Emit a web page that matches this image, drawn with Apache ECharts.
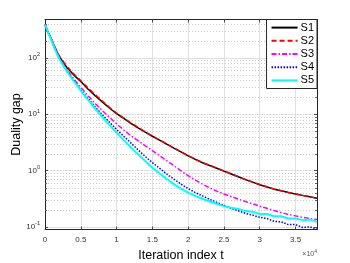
<!DOCTYPE html>
<html><head><meta charset="utf-8">
<script src="https://cdn.jsdelivr.net/npm/echarts@6/dist/echarts.min.js"></script>
<style>html,body{margin:0;padding:0;background:#fff}#c{width:350px;height:263px}</style>
</head><body><div id="c"></div>
<script>
const iterations = [0,500,1000,1500,2000,3000,4000,5000,6000,7000,8000,9000,10000,11000,12000,13000,14000,15000,16000,17000,18000,19000,20000,21000,22000,23000,24000,25000,26000,27000,28000,29000,30000,31000,32000,33000,34000,35000,36000,37000,38000];
const s1 = [389,275,200,141,105,69,50,38,28,21.4,16.6,12.9,10.2,8.4,6.9,5.75,4.8,4.07,3.47,2.95,2.51,2.14,1.82,1.58,1.38,1.23,1.10,0.977,0.871,0.776,0.692,0.624,0.562,0.513,0.468,0.437,0.407,0.385,0.363,0.343,0.324];
const s2 = [389,276,202,144,108,72,52,39.5,29.5,22.3,17.2,13.3,10.5,8.6,7.05,5.85,4.88,4.12,3.5,2.98,2.53,2.16,1.84,1.6,1.39,1.24,1.11,0.985,0.878,0.78,0.695,0.627,0.565,0.515,0.47,0.438,0.408,0.385,0.362,0.342,0.322];
const s3 = [389,275,195,138,100,63.1,42.7,30.2,21.4,15.5,11.6,8.81,6.76,5.25,4.17,3.39,2.75,2.26,1.84,1.50,1.22,0.989,0.813,0.676,0.575,0.495,0.431,0.385,0.347,0.313,0.282,0.257,0.234,0.214,0.195,0.180,0.166,0.157,0.148,0.141,0.135];
const s4 = [389,269,191,135,97.7,60.3,39.8,26.9,19.1,13.5,9.77,7.24,5.37,4.07,3.09,2.34,1.78,1.38,1.10,0.871,0.708,0.575,0.479,0.407,0.355,0.309,0.272,0.240,0.214,0.193,0.174,0.162,0.148,0.141,0.126,0.123,0.110,0.110,0.0977,0.100,0.0912];
const s5 = [389,269,191,132,95.5,58.9,38.9,26.3,18.2,12.6,8.91,6.46,4.68,3.47,2.57,1.95,1.48,1.12,0.891,0.708,0.575,0.479,0.407,0.355,0.316,0.282,0.257,0.234,0.219,0.209,0.191,0.186,0.170,0.170,0.155,0.155,0.141,0.141,0.132,0.135,0.123];
const seriesNames = ['S1','S2','S3','S4','S5'];
const xTickLabels = ['0','0.5','1','1.5','2','2.5','3','3.5'];
const yTickExponents = [-1,0,1,2];

const xMin = 0, xMax = 38000, xStep = 5000;
const yMin = 0.09, yMax = 480;
const FONT = '"Liberation Sans", Arial, Helvetica, sans-serif';
const AX = '#262626';

const minorGrid = [];
for (let n = -2; n <= 2; n++) for (let k = 2; k <= 9; k++) {
  const v = k * Math.pow(10, n);
  if (v > yMin && v < yMax) minorGrid.push([0, v]);
}

const styles = [
  {color:'#000000', width:1.5, type:'solid'},
  {color:'#ff0000', width:1.5, type:[5,3]},
  {color:'#ff00ff', width:1.5, type:[5,2,1.5,2]},
  {color:'#0000ff', width:1.5, type:[1.5,1.5]},
  {color:'#00ffff', width:2, type:'solid'}
];
const allData = [s1,s2,s3,s4,s5];

const chart = echarts.init(document.getElementById('c'), null, {renderer:'canvas'});
const series = [{
  type:'custom', name:'minor', z:1, silent:true, animation:false,
  data: minorGrid,
  renderItem: function(params, api){
    const cs = params.coordSys;
    const p = api.coord([0, api.value(1)]);
    const y = Math.round(p[1]) + 0.5;
    return {type:'group', children:[
      {type:'line', shape:{x1:cs.x, y1:y, x2:cs.x+cs.width, y2:y}, style:{stroke:'#cccccc', lineWidth:1, lineDash:[1,2]}},
      {type:'line', shape:{x1:cs.x, y1:y, x2:cs.x+2, y2:y}, style:{stroke:AX, lineWidth:0.7}},
      {type:'line', shape:{x1:cs.x+cs.width-2, y1:y, x2:cs.x+cs.width, y2:y}, style:{stroke:AX, lineWidth:0.7}}
    ]};
  }
}];
seriesNames.forEach((nm,i)=>{
  series.push({
    type:'line', name:nm, symbol:'none', showSymbol:false, smooth:false, animation:false, z:3+i,
    data: iterations.map((t,j)=>[t, allData[i][j]]),
    lineStyle:{color:styles[i].color, width:styles[i].width, type:styles[i].type},
    itemStyle:{color:styles[i].color}
  });
});

const option = {
  backgroundColor:'#ffffff',
  animation:false,
  textStyle:{fontFamily:FONT},
  grid:{left:45, right:33, top:19.5, bottom:33.5, containLabel:false, outerBoundsMode:'none', show:false},
  xAxis:[{
    type:'value', min:xMin, max:xMax, interval:xStep, position:'bottom',
    name:'Iteration index t', nameLocation:'middle', nameGap:20, nameMoveOverlap:false,
    nameTextStyle:{fontSize:12.5, color:'#000', fontFamily:FONT},
    axisLine:{show:true, onZero:false, lineStyle:{color:AX, width:1}},
    axisTick:{show:true, inside:true, length:3, lineStyle:{color:AX, width:0.8}},
    axisLabel:{show:true, color:'#333', fontSize:8, margin:6, fontFamily:FONT, showMaxLabel:false,
      formatter: v => { const i = Math.round(v / xStep); return (v % xStep === 0 && i < xTickLabels.length) ? xTickLabels[i] : ''; }},
    splitLine:{show:true, lineStyle:{color:'#e0e0e0', width:1}}
  },{
    type:'value', min:xMin, max:xMax, interval:xStep, position:'top',
    axisLine:{show:true, onZero:false, lineStyle:{color:AX, width:1}},
    axisTick:{show:true, inside:true, length:3, lineStyle:{color:AX, width:0.8}},
    axisLabel:{show:false}, splitLine:{show:false}
  }],
  yAxis:[{
    type:'log', logBase:10, min:yMin, max:yMax, position:'left',
    name:'Duality gap', nameLocation:'middle', nameGap:22, nameMoveOverlap:false,
    nameTextStyle:{fontSize:12.5, color:'#000', fontFamily:FONT},
    axisLine:{show:true, onZero:false, lineStyle:{color:AX, width:1}},
    axisTick:{show:true, inside:true, length:3, lineStyle:{color:AX, width:0.8}},
    axisLabel:{show:true, color:'#333', margin:5, showMinLabel:false, showMaxLabel:false,
      formatter: v => { const n = Math.round(Math.log10(v)); return yTickExponents.indexOf(n) >= 0 && Math.abs(Math.log10(v)-n) < 1e-6 ? '{b|10}{s|' + n + '}' : ''; },
      rich:{ b:{fontSize:8, fontFamily:FONT, color:'#333'}, s:{fontSize:5.5, fontFamily:FONT, color:'#333', padding:[0,0,6,0]} }
    },
    splitLine:{show:true, lineStyle:{color:'#e0e0e0', width:1}}
  },{
    type:'log', logBase:10, min:yMin, max:yMax, position:'right',
    axisLine:{show:true, onZero:false, lineStyle:{color:AX, width:1}},
    axisTick:{show:true, inside:true, length:3, lineStyle:{color:AX, width:0.8}},
    axisLabel:{show:false}, splitLine:{show:false}
  }],
  legend:{
    data:seriesNames, orient:'vertical', right:33, top:19.5,
    itemWidth:26, itemHeight:14, itemGap:2, padding:[2.5,3,2.5,4],
    backgroundColor:'#ffffff', borderColor:AX, borderWidth:1,
    itemStyle:{opacity:0},
    textStyle:{fontSize:11, color:'#000', fontFamily:FONT, padding:[0,0,0,-2]},
    selectedMode:false
  },
  graphic:[{
    type:'text', right:33, top:249, z:10,
    style:{text:'{a|×10}{e|4}', align:'right', rich:{a:{fontSize:7, fill:'#555', fontFamily:FONT}, e:{fontSize:5, fill:'#555', fontFamily:FONT, padding:[0,0,5,0]}}}
  }],
  series: series
};
chart.setOption(option);
</script></body></html>
